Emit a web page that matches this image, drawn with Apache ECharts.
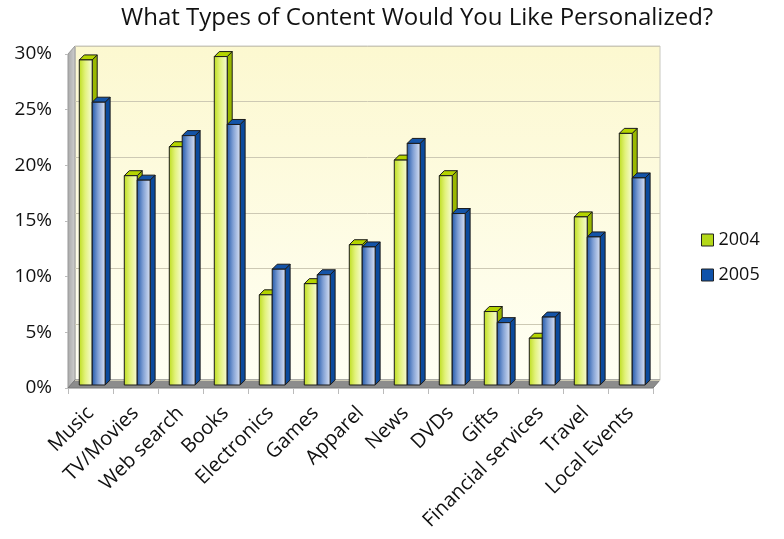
<!DOCTYPE html>
<html><head><meta charset="utf-8">
<script src="https://cdn.jsdelivr.net/npm/echarts@6/dist/echarts.min.js"></script>
<style>html,body{margin:0;padding:0;background:#fff}#c{width:784px;height:539px}</style>
</head><body><div id="c"></div>
<script>
const titleText = 'What Types of Content Would You Like Personalized?';
const categories = ['Music','TV/Movies','Web search','Books','Electronics','Games','Apparel','News','DVDs','Gifts','Financial services','Travel','Local Events'];
const seriesNames = ['2004','2005'];
const values2004 = [29.2, 18.8, 21.4, 29.5, 8.1, 9.1, 12.6, 20.2, 18.8, 6.6, 4.2, 15.1, 22.6];
const values2005 = [25.4, 18.4, 22.4, 23.4, 10.4, 9.9, 12.4, 21.7, 15.4, 5.6, 6.1, 13.3, 18.6];
const yTicks = [0, 5, 10, 15, 20, 25, 30];

const FONT = 'Open Sans';
const W = 784, H = 539;
const FRONT = {left: 68, right: 131, top: 54, bottom: 151};
const DX = 7, DY = -8;
const BACK = {left: FRONT.left + DX, right: FRONT.right - DX, top: FRONT.top + DY, bottom: FRONT.bottom - DY};

const styles = [
  {front: ['#bcdc1c', '#e2f27a', '#f8fbdc'], side: '#9ab800', top: '#b4d400', legend: '#b4d818'},
  {front: ['#1e56a8', '#7f9fd4', '#dde4f4'], side: '#0b4a9c', top: '#1454a8', legend: '#0f52aa'}
];

function makeRender(si) {
  const st = styles[si];
  return function (params, api) {
    const cat = api.value(0), val = api.value(1);
    const base = api.coord([cat, 0]);
    const topP = api.coord([cat, val]);
    const band = api.size([1, 0])[0];
    const w = band * 0.287;
    const d = 5;
    const sy = -3;
    const x = base[0] - w + 1.7 + si * w;
    const yb = base[1] + sy;
    const yt = topP[1] + sy;
    const fill = new echarts.graphic.LinearGradient(0, 0, 1, 0, [
      {offset: 0, color: st.front[0]}, {offset: 0.45, color: st.front[1]}, {offset: 1, color: st.front[2]}
    ]);
    const stroke = {stroke: '#1a1a1a', lineWidth: 1};
    return {
      type: 'group',
      children: [
        {type: 'polygon', shape: {points: [[x + w, yt], [x + w + d, yt - d], [x + w + d, yb - d], [x + w, yb]]},
          style: Object.assign({fill: st.side}, stroke)},
        {type: 'polygon', shape: {points: [[x, yt], [x + d, yt - d], [x + w + d, yt - d], [x + w, yt]]},
          style: Object.assign({fill: st.top}, stroke)},
        {type: 'rect', shape: {x: x, y: yt, width: w, height: yb - yt},
          style: Object.assign({fill: fill}, stroke)}
      ]
    };
  };
}

const chart = echarts.init(document.getElementById('c'), null, {renderer: 'canvas'});
const fx0 = FRONT.left, fx1 = W - FRONT.right, fy0 = FRONT.top, fy1 = H - FRONT.bottom;
const bx0 = BACK.left, bx1 = W - BACK.right, by0 = BACK.top, by1 = H - BACK.bottom;

chart.setOption({
  animation: false,
  backgroundColor: '#ffffff',
  title: {text: titleText, left: 116, top: 1, textStyle: {fontFamily: FONT, fontSize: 24, fontWeight: 'normal', color: '#111'}},
  legend: {
    orient: 'vertical', left: 696, top: 226, itemGap: 17, itemWidth: 12, itemHeight: 12, icon: 'rect',
    textStyle: {fontFamily: FONT, fontSize: 18, color: '#111'},
    data: seriesNames.map((n, i) => ({name: n, itemStyle: {color: styles[i].legend, borderColor: '#222', borderWidth: 1}}))
  },
  graphic: [
    {type: 'polygon', z: 0, silent: true, shape: {points: [[fx0, fy0], [bx0, by0], [bx0, by1], [fx0, fy1]]},
      style: {fill: new echarts.graphic.LinearGradient(0, 0, 1, 0, [{offset: 0, color: '#a8a8a8'}, {offset: 1, color: '#d0d0d0'}]), stroke: '#999', lineWidth: 1}},
    {type: 'polygon', z: 0, silent: true, shape: {points: [[fx0, fy1], [bx0, by1], [bx1, by1], [fx1, fy1]]},
      style: {fill: '#8c8c8c', stroke: '#777', lineWidth: 1}}
  ],
  grid: [
    {left: FRONT.left, right: FRONT.right, top: FRONT.top, bottom: FRONT.bottom, z: 3},
    {left: BACK.left, right: BACK.right, top: BACK.top, bottom: BACK.bottom, show: true, z: -1,
      backgroundColor: new echarts.graphic.LinearGradient(0, 0, 0, 1, [{offset: 0, color: '#fcf8d0'}, {offset: 1, color: '#fffff4'}]),
      borderColor: '#c8c8c0', borderWidth: 1}
  ],
  xAxis: [
    {type: 'category', gridIndex: 0, data: categories, boundaryGap: true,
      axisLine: {show: true, lineStyle: {color: '#bbb'}},
      axisTick: {show: true, length: 6, lineStyle: {color: '#bbb'}},
      axisLabel: {rotate: 45, margin: 22, interval: 0, fontFamily: FONT, fontSize: 20, color: '#111'}},
    {type: 'category', gridIndex: 1, data: categories, show: false}
  ],
  yAxis: [
    {type: 'value', gridIndex: 0, min: yTicks[0], max: yTicks[yTicks.length - 1], interval: 5,
      axisLine: {show: false}, axisTick: {show: true, length: 3, lineStyle: {color: '#bbb'}},
      splitLine: {show: false},
      axisLabel: {formatter: '{value}%', margin: 16, fontFamily: FONT, fontSize: 19, color: '#111'}},
    {type: 'value', gridIndex: 1, min: yTicks[0], max: yTicks[yTicks.length - 1], interval: 5,
      axisLine: {show: false}, axisTick: {show: false}, axisLabel: {show: false},
      splitLine: {show: true, lineStyle: {color: '#cdc9b4', width: 1}}}
  ],
  series: [values2004, values2005].map((vals, si) => ({
    name: seriesNames[si], type: 'custom', xAxisIndex: 0, yAxisIndex: 0, z: 5,
    itemStyle: {color: styles[si].legend},
    renderItem: makeRender(si),
    encode: {x: 0, y: 1},
    data: vals.map((v, i) => [i, v])
  }))
});
</script></body></html>
